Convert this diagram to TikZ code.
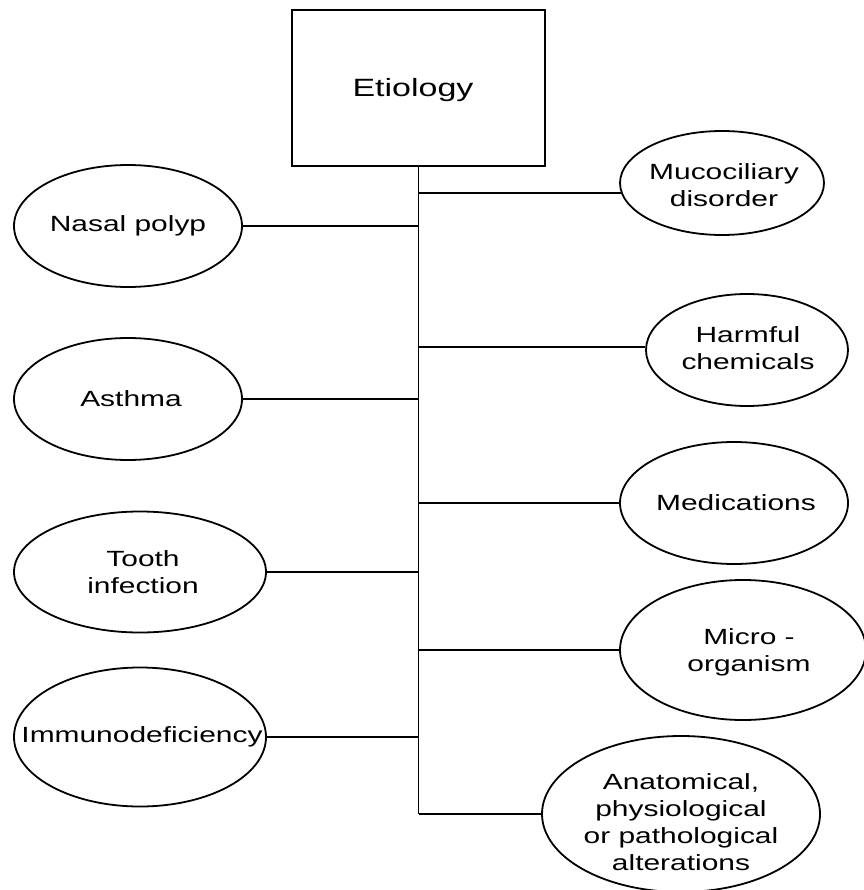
\documentclass[tikz,border=0pt]{standalone}
\usepackage{fontspec}
\newfontfamily\diafont{Liberation Sans}[FakeStretch=1.36]
\usetikzlibrary{shapes.geometric}
\tikzset{
  ell/.style={draw, ellipse, line width=1.8pt, inner sep=0pt},
  txt/.style={align=center, inner sep=0pt, font=\diafont\fontsize{22}{27}\selectfont},
  conn/.style={line width=1.9pt},
}
\begin{document}
\begin{tikzpicture}[x=1pt,y=-1pt]
\useasboundingbox (0,0) rectangle (863,890);
% root
\node[draw, line width=1.8pt, minimum width=253pt, minimum height=156pt, inner sep=0pt] (root) at (418.5,88) {};
\node[inner sep=0pt, font=\diafont\fontsize{25}{28}\selectfont] (roott) at (413,90) {Etiology};
\coordinate (bot) at (418.5,814);
% left ellipses
\node[ell, minimum width=228pt, minimum height=122pt] (np) at (128,226) {};
\node[txt] (npt) at (128,226) {Nasal polyp};
\node[ell, minimum width=228pt, minimum height=122pt] (as) at (128,399) {};
\node[txt] (ast) at (131,399) {Asthma};
\node[ell, minimum width=252pt, minimum height=121pt] (to) at (140,572) {};
\node[txt] (tot) at (143,572) {Tooth\\infection};
\node[ell, minimum width=252pt, minimum height=139pt] (im) at (140,737) {};
\node[txt] (imt) at (142,737) {Immunodeficiency};
% right ellipses
\node[ell, minimum width=204pt, minimum height=104pt] (mu) at (722,183) {};
\node[txt] (mut) at (724,185) {Mucociliary\\disorder};
\node[ell, minimum width=202pt, minimum height=112pt] (ha) at (747,350) {};
\node[txt] (hat) at (748,348) {Harmful\\chemicals};
\node[ell, minimum width=228pt, minimum height=122pt] (me) at (734,503) {};
\node[txt] (met) at (736,503) {Medications};
\node[ell, minimum width=246pt, minimum height=140pt] (mi) at (743,650) {};
\node[txt] (mit) at (749,652) {Micro -\\organism};
\node[ell, minimum width=278pt, minimum height=156pt] (an) at (681,814) {};
\node[txt] (ant) at (681,822) {Anatomical,\\physiological\\or pathological\\alterations};
% connectors
\draw[conn] (root.south) -- (bot);
\draw[conn] (np.east) -- (np.east -| root.south);
\draw[conn] (as.east) -- (as.east -| root.south);
\draw[conn] (to.east) -- (to.east -| root.south);
\draw[conn] (im.east) -- (im.east -| root.south);
\draw[conn] ([xshift=2pt,yshift=-10pt]mu.west) -- ([yshift=-10pt]mu.west -| root.south);
\draw[conn] ([yshift=3pt]ha.west) -- ([yshift=3pt]ha.west -| root.south);
\draw[conn] (me.west) -- (me.west -| root.south);
\draw[conn] (mi.west) -- (mi.west -| root.south);
\draw[conn] (an.west) -- (bot);
\end{tikzpicture}
\end{document}
